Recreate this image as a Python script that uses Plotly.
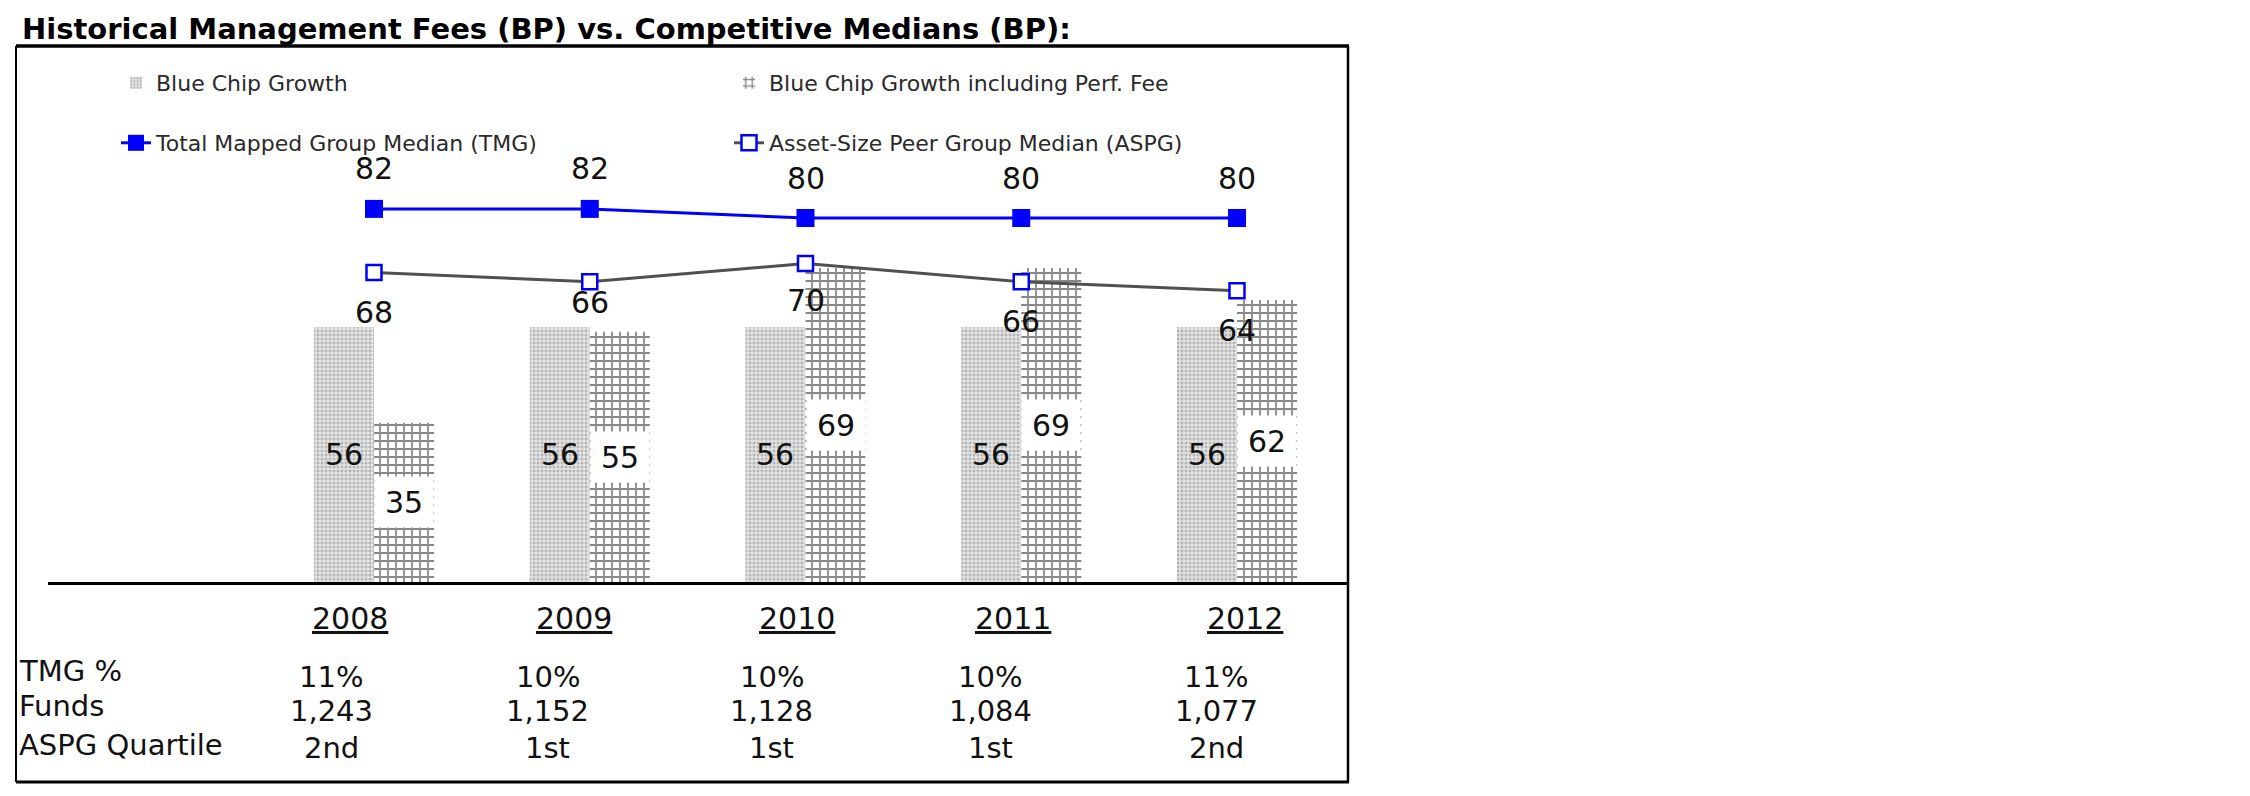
import plotly.graph_objects as go

# ---------------- data ----------------
years = ["2008", "2009", "2010", "2011", "2012"]
blue_chip = [56, 56, 56, 56, 56]
blue_chip_perf = [35, 55, 69, 69, 62]
tmg_median = [82, 82, 80, 80, 80]
aspg_median = [68, 66, 70, 66, 64]
row_labels = ["TMG %", "Funds", "ASPG Quartile"]
tmg_pct = ["11%", "10%", "10%", "10%", "11%"]
funds = ["1,243", "1,152", "1,128", "1,084", "1,077"]
aspg_quartile = ["2nd", "1st", "1st", "1st", "2nd"]

# ---------------- style ----------------
W, H = 2250, 796
FONT = "DejaVu Sans"
def px(x):
    return x / W
def py(y):
    return 1 - y / H

aspg_label_shift = [-40, -21, -37, -40, -40]
year_shift = [-24, -16, -9, -8, 8]
table_shift = [-43, -42, -34, -31, -21]
label_rows_y = [682, 717, 756]
value_rows_y = [688, 722, 759]
BARGAP = 0.443
half = (1 - BARGAP) / 4

fig = go.Figure()
fig.add_trace(go.Bar(
    x=years, y=blue_chip, name="Blue Chip Growth", legend="legend",
    marker=dict(color="#e2e2e2", line=dict(width=0),
                pattern=dict(shape=".", fgcolor="#858585", bgcolor="#e4e4e4", size=4, solidity=0.45)),
    hoverinfo="skip"))
fig.add_trace(go.Bar(
    x=years, y=blue_chip_perf, name="Blue Chip Growth including Perf. Fee", legend="legend",
    marker=dict(color="white", line=dict(width=0),
                pattern=dict(shape="+", fgcolor="#111111", bgcolor="white", size=8, solidity=0.4)),
    hoverinfo="skip"))
fig.add_trace(go.Scatter(
    x=years, y=tmg_median, mode="lines+markers", name="Total Mapped Group Median (TMG)", legend="legend2",
    line=dict(color="#0000ff", width=3),
    marker=dict(symbol="square", size=18, color="#0000ff")))
fig.add_trace(go.Scatter(
    x=years, y=aspg_median, mode="lines+markers", name="Asset-Size Peer Group Median (ASPG)", legend="legend2",
    line=dict(color="#505050", width=3),
    marker=dict(symbol="square", size=15, color="white", line=dict(color="#0000ff", width=2.5))))

ann = []
# title
ann.append(dict(text="<b>Historical Management Fees (BP) vs. Competitive Medians (BP):</b>",
                x=px(12), y=py(21), xref="paper", yref="paper", xanchor="left", yanchor="middle",
                showarrow=False, font=dict(family=FONT, size=29, color="black")))
# bar labels
for i, v in enumerate(blue_chip):
    ann.append(dict(text=str(v), x=i - half, y=v / 2, xref="x", yref="y", showarrow=False,
                    font=dict(family=FONT, size=30, color="#111")))
for i, v in enumerate(blue_chip_perf):
    ann.append(dict(text=str(v), x=i + half, y=v / 2, xref="x", yref="y", showarrow=False,
                    bgcolor="white", width=58, height=50, borderpad=0,
                    font=dict(family=FONT, size=30, color="#111")))
# line labels
for i, v in enumerate(tmg_median):
    ann.append(dict(text=str(v), x=i, y=v, xref="x", yref="y", yshift=40, showarrow=False,
                    font=dict(family=FONT, size=30, color="#111")))
for i, v in enumerate(aspg_median):
    ann.append(dict(text=str(v), x=i, y=v, xref="x", yref="y", yshift=aspg_label_shift[i], showarrow=False,
                    font=dict(family=FONT, size=30, color="#111")))
# table
for i, yr in enumerate(years):
    ann.append(dict(text="<u>" + yr + "</u>", x=i, y=py(630), xref="x", yref="paper", xshift=year_shift[i],
                    showarrow=False, font=dict(family=FONT, size=30, color="#111")))
for r, lab in enumerate(row_labels):
    ann.append(dict(text=lab, x=px(9), y=py(label_rows_y[r]), xref="paper", yref="paper",
                    xanchor="left", showarrow=False, font=dict(family=FONT, size=29, color="#111")))
for r, row in enumerate([tmg_pct, funds, aspg_quartile]):
    for i, val in enumerate(row):
        ann.append(dict(text=val, x=i, y=py(value_rows_y[r]), xref="x", yref="paper",
                        xshift=table_shift[i], showarrow=False,
                        font=dict(family=FONT, size=29, color="#111")))

shapes = [
    dict(type="line", xref="paper", yref="paper", x0=px(8), x1=px(1341), y0=py(38), y1=py(38),
         line=dict(color="black", width=3.5)),
    dict(type="line", xref="paper", yref="paper", x0=px(8), x1=px(8), y0=py(38), y1=py(774),
         line=dict(color="black", width=2)),
    dict(type="line", xref="paper", yref="paper", x0=px(1340), x1=px(1340), y0=py(38), y1=py(774),
         line=dict(color="black", width=2.5)),
    dict(type="line", xref="paper", yref="paper", x0=px(8), x1=px(1341), y0=py(774), y1=py(774),
         line=dict(color="black", width=3)),
]

x0px, x1px = 40, 1340
cat0, step = 366, 215.75
fig.update_layout(
    width=W, height=H, margin=dict(l=0, r=0, t=0, b=0),
    paper_bgcolor="white", plot_bgcolor="white",
    barmode="group", bargap=BARGAP, bargroupgap=0,
    xaxis=dict(domain=[px(x0px), px(x1px)], type="category",
               range=[(x0px - cat0) / step, (x1px - cat0) / step],
               showline=True, linecolor="black", linewidth=3, showticklabels=False,
               ticks="", showgrid=False, zeroline=False, fixedrange=True),
    yaxis=dict(domain=[py(574), py(45)], range=[0, (574 - 45) / 4.55], visible=False, fixedrange=True),
    legend=dict(x=px(108), y=py(75), xanchor="left", yanchor="middle", orientation="h",
                entrywidth=568, font=dict(family=FONT, size=22, color="#2a2a2a"), bgcolor="rgba(0,0,0,0)"),
    legend2=dict(x=px(108), y=py(135), xanchor="left", yanchor="middle", orientation="h",
                 entrywidth=568, font=dict(family=FONT, size=22, color="#2a2a2a"), bgcolor="rgba(0,0,0,0)"),
    annotations=ann, shapes=shapes, showlegend=True,
)
fig.write_html("out.html")
